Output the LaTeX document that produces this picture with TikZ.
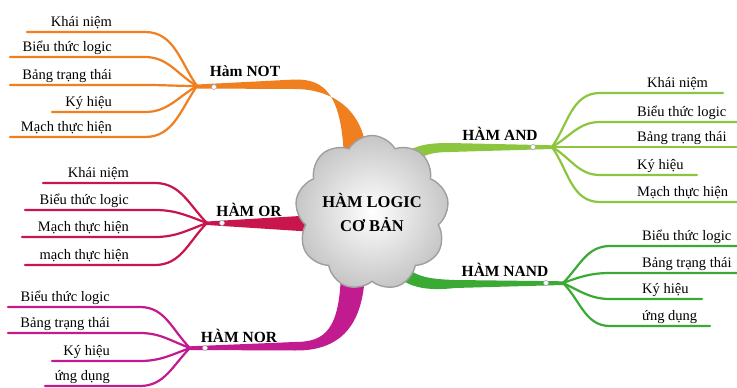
\documentclass[tikz,border=0pt]{standalone}
\usepackage{fontspec}
\setmainfont{Liberation Serif}
\usetikzlibrary{shapes.symbols,calc}
\definecolor{cnot}{HTML}{F07F1F}
\definecolor{cor}{HTML}{C8164C}
\definecolor{cnor}{HTML}{C21A8F}
\definecolor{cand}{HTML}{8CC63E}
\definecolor{cnand}{HTML}{3BAA35}
\tikzset{
 leaftext/.style={font=\fontsize{14.5}{16}\selectfont, inner sep=0pt},
 leafline/.style={line width=2.2pt, line cap=round},
 brlabel/.style={font=\bfseries\fontsize{15.5}{17}\selectfont, inner sep=0pt},
 hubdot/.style={circle, draw=gray!70, fill=white, inner sep=0pt, minimum size=5pt, line width=0.6pt},
 rootcloud/.style={cloud, cloud puffs=9, cloud puff arc=120, cloud ignores aspect,
   minimum width=122pt, minimum height=155pt, draw=gray!75, line width=1.4pt,
   inner color=white, outer color=gray!45, align=center,
   font=\bfseries\fontsize{16.5}{24}\selectfont},
}
\newcommand\lleaf[8]{%
 \coordinate (#1s) at (#4,#6);
 \coordinate (#1j) at (#5,#6);
 \node[leaftext, anchor=base east] (#1) at (#7,#6-6) {#3};
 \draw[leafline, draw=#2] (#1s) -- (#1j) to[out=0, in=#8] (\curhub);
}
\newcommand\rleaf[8]{%
 \coordinate (#1s) at (#4,#6);
 \coordinate (#1j) at (#5,#6);
 \node[leaftext, anchor=base west] (#1) at (#7,#6-6) {#3};
 \draw[leafline, draw=#2] (#1s) -- (#1j) to[out=180, in=#8] (\curhub);
}
\begin{document}
\begin{tikzpicture}[x=1pt,y=-1pt]
\fill[white] (0,0) rectangle (737,388);
\useasboundingbox (0,0) rectangle (737,388);
% hubs
\coordinate (h1) at (197,86);
\coordinate (h2) at (207,223);
\coordinate (h3) at (190,348);
\coordinate (h4) at (552,147);
\coordinate (h5) at (563,283);
% main branches
\fill[cnot] (344,160) .. controls (342,95) and (325,79) .. (295,79.5) -- (197,84.5) -- (197,88.5) -- (295,89) .. controls (330,89) and (366,108) .. (367,160) -- cycle;
\fill[cor] (320,215) -- (300,216) -- (207,221.5) -- (207,225) -- (300,231) -- (320,232) -- cycle;
\fill[cnor] (341,270) .. controls (340,330) and (325,342) .. (295,342) -- (190,346.3) -- (190,350) -- (295,350.5) .. controls (345,351) and (364,320) .. (365,270) -- cycle;
\fill[cand] (390,165) .. controls (410,145) and (425,143) .. (450,143) -- (552,145.3) -- (552,149) -- (450,152) .. controls (425,152) and (415,158) .. (405,175) -- cycle;
\fill[cnand] (400,258) .. controls (410,276) and (425,279) .. (455,280) -- (563,281.3) -- (563,285) -- (455,288) .. controls (420,292) and (400,285) .. (388,265) -- cycle;
% cloud
\node[rootcloud] (root) at (372,213) {HÀM LOGIC\\CƠ BẢN};
% dots
\node[hubdot] (d1) at (214,87) {};
\node[hubdot] (d2) at (222,223) {};
\node[hubdot] (d3) at (205,348) {};
\node[hubdot] (d4) at (533,147) {};
\node[hubdot] (d5) at (546,283) {};
% labels
\node[brlabel] (l1) at (245,71) {Hàm NOT};
\node[brlabel] (l2) at (249,210) {HÀM OR};
\node[brlabel] (l3) at (239,336) {HÀM NOR};
\node[brlabel] (l4) at (500,134) {HÀM AND};
\node[brlabel] (l5) at (505,270) {HÀM NAND};
% NOT leaves
\def\curhub{h1}
\lleaf{a1}{cnot}{Khái niệm}{27}{145}{32}{112}{125}
\lleaf{a2}{cnot}{Biểu thức logic}{10}{145}{57}{112}{150}
\lleaf{a3}{cnot}{Bảng trạng thái}{10}{145}{85}{112}{180}
\lleaf{a4}{cnot}{Ký hiệu}{52}{145}{112}{112}{210}
\lleaf{a5}{cnot}{Mạch thực hiện}{10}{145}{137}{112}{235}
% OR leaves
\def\curhub{h2}
\lleaf{b1}{cor}{Khái niệm}{43}{155}{183}{129}{135}
\lleaf{b2}{cor}{Biểu thức logic}{25}{155}{210}{129}{160}
\lleaf{b3}{cor}{Mạch thực hiện}{22}{155}{237}{129}{200}
\lleaf{b4}{cor}{mạch thực hiện}{25}{155}{265}{129}{225}
% NOR leaves
\def\curhub{h3}
\lleaf{c1}{cnor}{Biểu thức logic}{8}{140}{307}{110}{135}
\lleaf{c2}{cnor}{Bảng trạng thái}{8}{140}{333}{110}{160}
\lleaf{c3}{cnor}{Ký hiệu}{52}{140}{361}{110}{200}
\lleaf{c4}{cnor}{ứng dụng}{45}{140}{386}{110}{225}
% AND leaves
\def\curhub{h4}
\rleaf{e1}{cand}{Khái niệm}{723}{600}{93}{647}{55}
\rleaf{e2}{cand}{Biểu thức logic}{737}{600}{122}{637}{30}
\rleaf{e3}{cand}{Bảng trạng thái}{737}{600}{147}{637}{0}
\rleaf{e4}{cand}{Ký hiệu}{697}{600}{175}{637}{-30}
\rleaf{e5}{cand}{Mạch thực hiện}{737}{600}{202}{637}{-55}
% NAND leaves
\def\curhub{h5}
\rleaf{f1}{cnand}{Biểu thức logic}{737}{610}{246}{642}{45}
\rleaf{f2}{cnand}{Bảng trạng thái}{737}{610}{273}{642}{20}
\rleaf{f3}{cnand}{Ký hiệu}{702}{610}{299}{642}{-25}
\rleaf{f4}{cnand}{ứng dụng}{710}{610}{326}{642}{-45}
\end{tikzpicture}
\end{document}
